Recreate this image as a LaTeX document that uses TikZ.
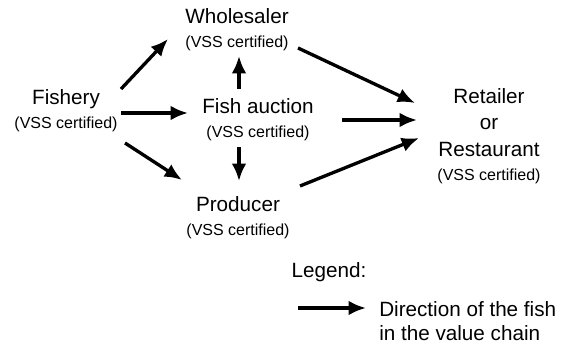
\documentclass[tikz,border=0pt]{standalone}
\usepackage{fontspec}
\setmainfont{Liberation Sans}
\usetikzlibrary{arrows.meta,positioning,calc}
\newcommand{\mainsz}{\fontsize{15.5}{18}\selectfont}
\newcommand{\vsssz}{\fontsize{12}{14}\selectfont}
\tikzset{actor/.style={align=center,inner sep=0pt,font=\mainsz},
  arr/.style={-{Latex[length=13pt,width=11pt]},line width=2.5pt}}

\begin{document}
\begin{tikzpicture}[x=0.75pt,y=-0.75pt]
\useasboundingbox (0,0) rectangle (574,346);
\node[actor] (fishery) at (66,111) {Fishery\\{\vsssz (VSS certified)}};
\node[actor] (wholesaler) at (237,30) {Wholesaler\\{\vsssz (VSS certified)}};
\node[actor] (auction) at (258,120) {Fish auction\\{\vsssz (VSS certified)}};
\node[actor] (producer) at (238,218) {Producer\\{\vsssz (VSS certified)}};
\node[actor] (retailer) at (489,136) {Retailer\\[2pt]or\\[2pt]Restaurant\\{\vsssz (VSS certified)}};
\draw[arr] ($(fishery)+(55,-22)$) -- ($(wholesaler)+(-69,9)$);
\draw[arr] ($(fishery)+(55,2)$) -- ($(auction)+(-70,-7)$);
\draw[arr] ($(fishery)+(59,32)$) -- ($(producer)+(-56,-38)$);
\draw[arr] ($(auction)+(-19,-31)$) -- ($(wholesaler)+(2,26)$);
\draw[arr] ($(auction)+(-19,27)$) -- ($(producer)+(1,-37)$);
\draw[arr] ($(wholesaler)+(61,18)$) -- ($(retailer)+(-74,-33)$);
\draw[arr] ($(auction)+(84,0)$) -- ($(retailer)+(-72,-16)$);
\draw[arr] ($(producer)+(62,-32)$) -- ($(retailer)+(-70,2)$);
% legend
\node[actor] (legend) at (329,272) {Legend:};
\node[actor,align=left,anchor=west] (legtext) at (379,321) {Direction of the fish\\in the value chain};
\draw[arr] ($(legtext.west)+(-81,-13)$) -- ($(legtext.west)+(-13,-13)$);
\end{tikzpicture}
\end{document}
